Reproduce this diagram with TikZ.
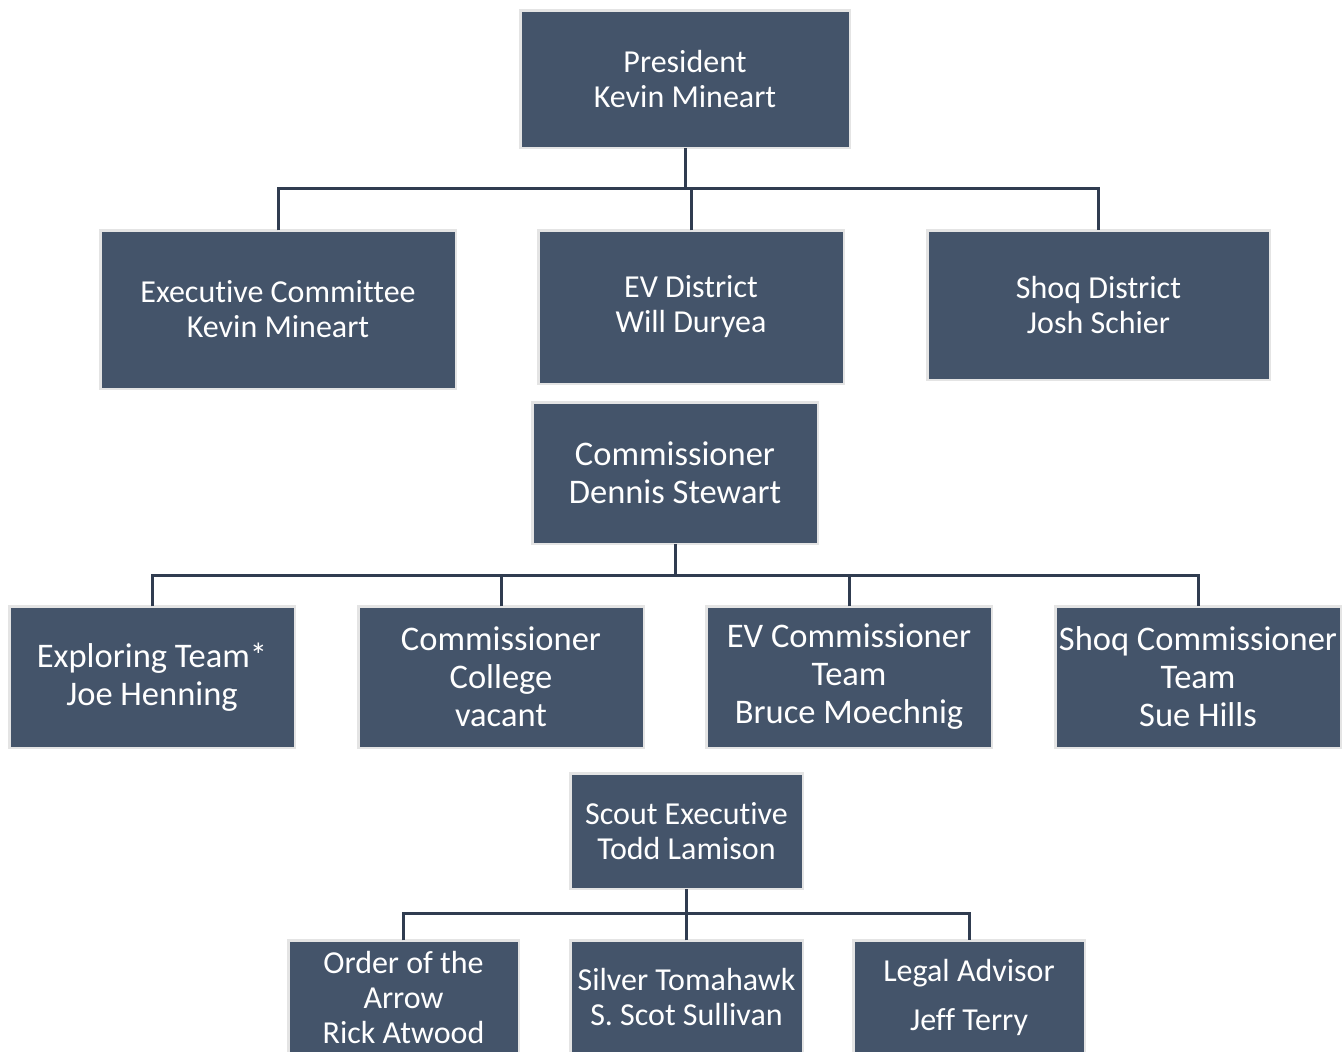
\documentclass[tikz,border=0pt]{standalone}
\usepackage{fontspec}
\setmainfont{Carlito}[Ligatures={NoCommon,NoRare,NoDiscretionary}]
\definecolor{boxfill}{RGB}{68,84,106}
\definecolor{boxedge}{RGB}{228,228,228}
\definecolor{linecol}{RGB}{48,60,80}
\begin{document}
\begin{tikzpicture}[x=1pt,y=-1pt,
  box/.style={draw=boxedge,fill=boxfill,line width=2.5pt,text=white,align=center,inner sep=0pt,outer sep=0pt},
  fa/.style={font=\fontsize{32}{35}\selectfont},
  fb/.style={font=\fontsize{34.5}{38}\selectfont},
  conn/.style={draw=linecol,line width=3pt}]
\useasboundingbox (0,0) rectangle (1342,1052);
\clip (0,0) rectangle (1342,1052);
\coordinate (b1) at (685,188);
\coordinate (b2) at (675,575);
\coordinate (b3) at (686.5,913);
% level 1
\node[box,fa,minimum width=329.5pt,minimum height=137.5pt] (pres) at (685,79) {President\\Kevin Mineart};
% level 2
\node[box,fa,minimum width=355.5pt,minimum height=158.5pt] (exec) at (278,309.5) {Executive Committee\\Kevin Mineart};
\node[box,fa,minimum width=305.5pt,minimum height=153.5pt] (ev) at (691,307) {EV District\\Will Duryea};
\node[box,fa,minimum width=342.5pt,minimum height=149.5pt] (shoq) at (1098.5,305) {Shoq District\\Josh Schier};
% commissioner
\node[box,fb,minimum width=285.5pt,minimum height=141.5pt] (comm) at (675,473) {Commissioner\\Dennis Stewart};
% level 3
\node[box,fb,minimum width=285.5pt,minimum height=141.5pt] (expl) at (152,677) {Exploring Team*\\Joe Henning};
\node[box,fb,minimum width=285.5pt,minimum height=141.5pt] (coll) at (501,677) {Commissioner\\College\\vacant};
\node[box,fb,minimum width=285.5pt,minimum height=141.5pt] (evc) at (849,677) {EV Commissioner\\Team\\Bruce Moechnig};
\node[box,fb,minimum width=285.5pt,minimum height=141.5pt] (shoqc) at (1198,677) {Shoq Commissioner\\Team\\Sue Hills};
% scout executive
\node[box,fa,minimum width=232.5pt,minimum height=115.5pt] (scout) at (686.5,831) {Scout Executive\\Todd Lamison};
% level 4
\node[box,fa,minimum width=230.5pt,minimum height=113.5pt] (oa) at (403.5,997) {Order of the\\Arrow\\Rick Atwood};
\node[box,fa,minimum width=232.5pt,minimum height=113.5pt] (silver) at (686.5,997) {Silver Tomahawk\\S. Scot Sullivan};
\node[box,fa,minimum width=231.5pt,minimum height=113.5pt] (legal) at (969,997) {Legal Advisor\\[14pt]Jeff Terry};
% connectors
\draw[conn] (pres.south) -- (b1);
\draw[conn] (exec.north) |- (b1) -| (shoq.north);
\draw[conn] (ev.north) -- (ev.north |- b1);
\draw[conn] (comm.south) -- (b2);
\draw[conn] (expl.north) |- (b2) -| (shoqc.north);
\draw[conn] (coll.north) -- (coll.north |- b2);
\draw[conn] (evc.north) -- (evc.north |- b2);
\draw[conn] (scout.south) -- (b3);
\draw[conn] (oa.north) |- (b3) -| (legal.north);
\draw[conn] (silver.north) -- (silver.north |- b3);
\end{tikzpicture}
\end{document}
